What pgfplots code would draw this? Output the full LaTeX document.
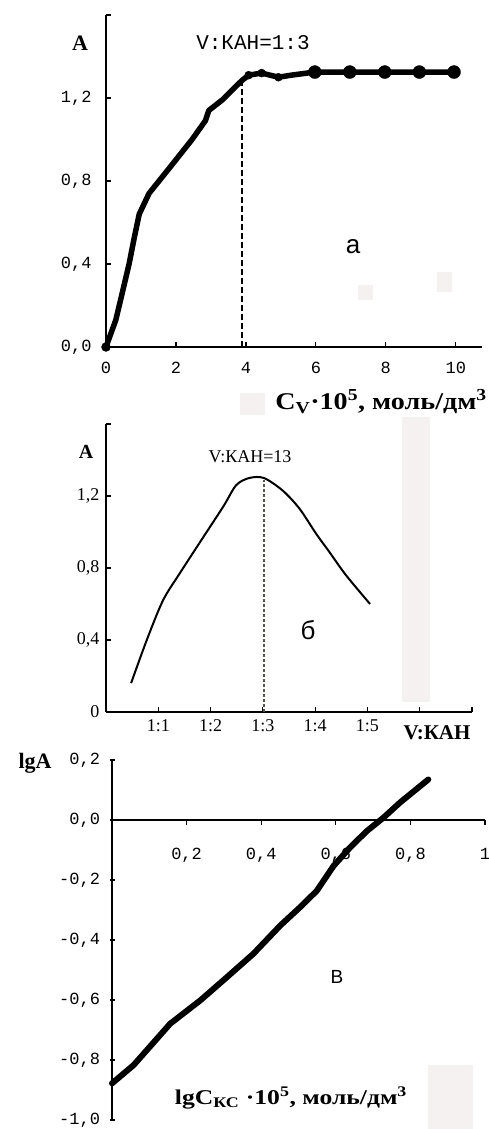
\documentclass[border=0pt]{standalone}
\usepackage{fontspec}
\setmainfont{Liberation Serif}
\setsansfont{Liberation Sans}
\setmonofont{Liberation Mono}
\usepackage{graphicx}
\usepackage{pgfplots}
\pgfplotsset{compat=1.18}
\definecolor{pale}{HTML}{F6F1F1}
\definecolor{dashg}{HTML}{55554A}
\begin{document}
\begin{tikzpicture}
\useasboundingbox (0pt,0pt) rectangle (488pt,1129pt);
% faint artifacts
\fill[pale] (358pt,829pt) rectangle (373pt,844pt);
\fill[pale] (437pt,837pt) rectangle (452pt,857pt);
\fill[pale] (402pt,427pt) rectangle (430pt,712pt);
\fill[pale] (428pt,0pt) rectangle (473pt,64pt);
\fill[pale] (240pt,714pt) rectangle (265pt,736pt);

\pgfplotsset{mystyle/.style={scale only axis, clip=false, axis line style={line width=1.2pt,-,black},
  tick style={line width=1.2pt,black}, major tick length=5pt}}

% ---------- panel a ----------
\begin{axis}[mystyle, at={(106pt,782pt)}, anchor=south west, width=376pt, height=332pt,
  xmin=0, xmax=10.75, ymin=0, ymax=1.6,
  axis x line*=bottom, axis y line*=left, tick align=inside,
  xtick={0,2,4,6,8,10}, xticklabels={0,2,4,6,8,10},
  ytick={0,0.4,0.8,1.2,1.6}, yticklabels={{0,0},{0,4},{0,8},{1,2},{}},
  ticklabel style={font=\ttfamily\fontsize{17}{19}\selectfont},
  xticklabel style={yshift=-12pt}, yticklabel style={xshift=-11pt}]
\addplot[line width=5.5pt, line cap=round, line join=round] coordinates {
(0,0) (0.28,0.13) (0.45,0.25) (0.66,0.40) (0.8,0.52) (0.95,0.64) (1.23,0.74) (1.61,0.82)
(1.99,0.90) (2.46,1.0) (2.84,1.09) (2.94,1.14) (3.32,1.19) (3.89,1.285) (4.08,1.31)
(4.45,1.32) (4.93,1.30) (5.3,1.31) (5.97,1.325) (6.97,1.325) (7.97,1.325) (8.96,1.325) (9.95,1.325)};
\addplot[only marks, mark=*, mark size=4.5pt, black] coordinates {(0,0)};
\addplot[only marks, mark=*, mark size=4pt, black] coordinates {(4.08,1.31) (4.45,1.32) (4.93,1.30)};
\addplot[only marks, mark=*, mark size=6.5pt, black] coordinates {(5.97,1.325) (6.97,1.325) (7.97,1.325) (8.96,1.325) (9.95,1.325)};
\addplot[line width=2pt, dash pattern=on 6pt off 3pt] coordinates {(3.89,0) (3.89,1.29)};
\end{axis}

% ---------- panel b ----------
\begin{axis}[mystyle, at={(106pt,417pt)}, anchor=south west, width=366pt, height=288pt,
  xmin=0, xmax=7, ymin=0, ymax=1.6,
  axis x line*=bottom, axis y line*=left, tick align=inside,
  xtick={1,2,3,4,5,6,7}, xticklabels={1:1,1:2,1:3,1:4,1:5,{},{}},
  ytick={0,0.4,0.8,1.2,1.6}, yticklabels={0,{0,4},{0,8},{1,2},{}},
  ticklabel style={font=\fontsize{18}{20}\selectfont},
  xticklabel style={yshift=-4pt}, yticklabel style={xshift=-3pt}]
\addplot[line width=2pt, smooth, tension=0.5] coordinates {
(0.48,0.16) (0.78,0.40) (1.09,0.62) (1.41,0.77) (1.79,0.94)
(2.24,1.14) (2.49,1.26) (2.74,1.30) (3.02,1.30) (3.38,1.23)
(3.70,1.13) (4.02,0.99) (4.27,0.89) (4.59,0.76) (5.05,0.60)};
\addplot[line width=1.6pt, dashg, dash pattern=on 3pt off 2pt] coordinates {(3.02,0) (3.02,1.29)};
\end{axis}

% ---------- panel c ----------
\begin{axis}[mystyle, at={(112pt,9pt)}, anchor=south west, width=373pt, height=360pt,
  xmin=0, xmax=1, ymin=-1, ymax=0.2,
  axis x line*=middle, axis y line*=left,
  hide obscured x ticks=false, hide obscured y ticks=false,
  x tick style={/pgfplots/tick align=outside}, tick align=center,
  xtick={0.2,0.4,0.6,0.8,1}, xticklabels={{0,2},{0,4},{0,6},{0,8},1},
  ytick={-1,-0.8,-0.6,-0.4,-0.2,0,0.2},
  yticklabels={{-1,0},{-0,8},{-0,6},{-0,4},{-0,2},{0,0},{0,2}},
  ticklabel style={font=\ttfamily\fontsize{17}{19}\selectfont},
  xticklabel style={yshift=-22pt}, yticklabel style={xshift=-6pt}]
\addplot[line width=6pt, line cap=round, line join=round] coordinates {
(0.0,-0.878) (0.058,-0.817) (0.156,-0.679) (0.237,-0.601) (0.308,-0.524) (0.379,-0.446)
(0.451,-0.352) (0.504,-0.291) (0.549,-0.236) (0.594,-0.153) (0.638,-0.092) (0.683,-0.037)
(0.728,0.008) (0.772,0.058) (0.848,0.135)};
\end{axis}

% ---------- texts ----------
\node[font=\bfseries\fontsize{22}{24}\selectfont] at (80pt,1086pt) {A};
\node[font=\ttfamily\fontsize{21}{23}\selectfont] at (253pt,1086pt) {V:КАН=1:3};
\node[font=\sffamily\fontsize{26}{28}\selectfont] at (353pt,882pt) {а};
\node[font=\bfseries\fontsize{24}{26}\selectfont, anchor=east, inner sep=1pt] at (488pt,727pt)
  {\scalebox{1.17}[1]{C\textsubscript{V}·10\textsuperscript{5}, моль/дм\textsuperscript{3}}};

\node[font=\bfseries\fontsize{20}{22}\selectfont] at (86pt,677pt) {A};
\node[font=\fontsize{18}{20}\selectfont] at (250pt,672pt) {V:КАН=13};
\node[font=\sffamily\fontsize{26}{28}\selectfont] at (308pt,499pt) {б};
\node[font=\bfseries\fontsize{21}{23}\selectfont] at (437pt,396pt) {V:КАН};

\node[font=\bfseries\fontsize{22}{24}\selectfont] at (35pt,366pt) {lgA};
\node[font=\sffamily\fontsize{19}{21}\selectfont] at (337pt,152pt) {В};
\node[font=\bfseries\fontsize{21}{23}\selectfont] at (291pt,31pt)
  {\scalebox{1.22}[1]{lgC\textsubscript{КС} ·10\textsuperscript{5}, моль/дм\textsuperscript{3}}};
\end{tikzpicture}
\end{document}
